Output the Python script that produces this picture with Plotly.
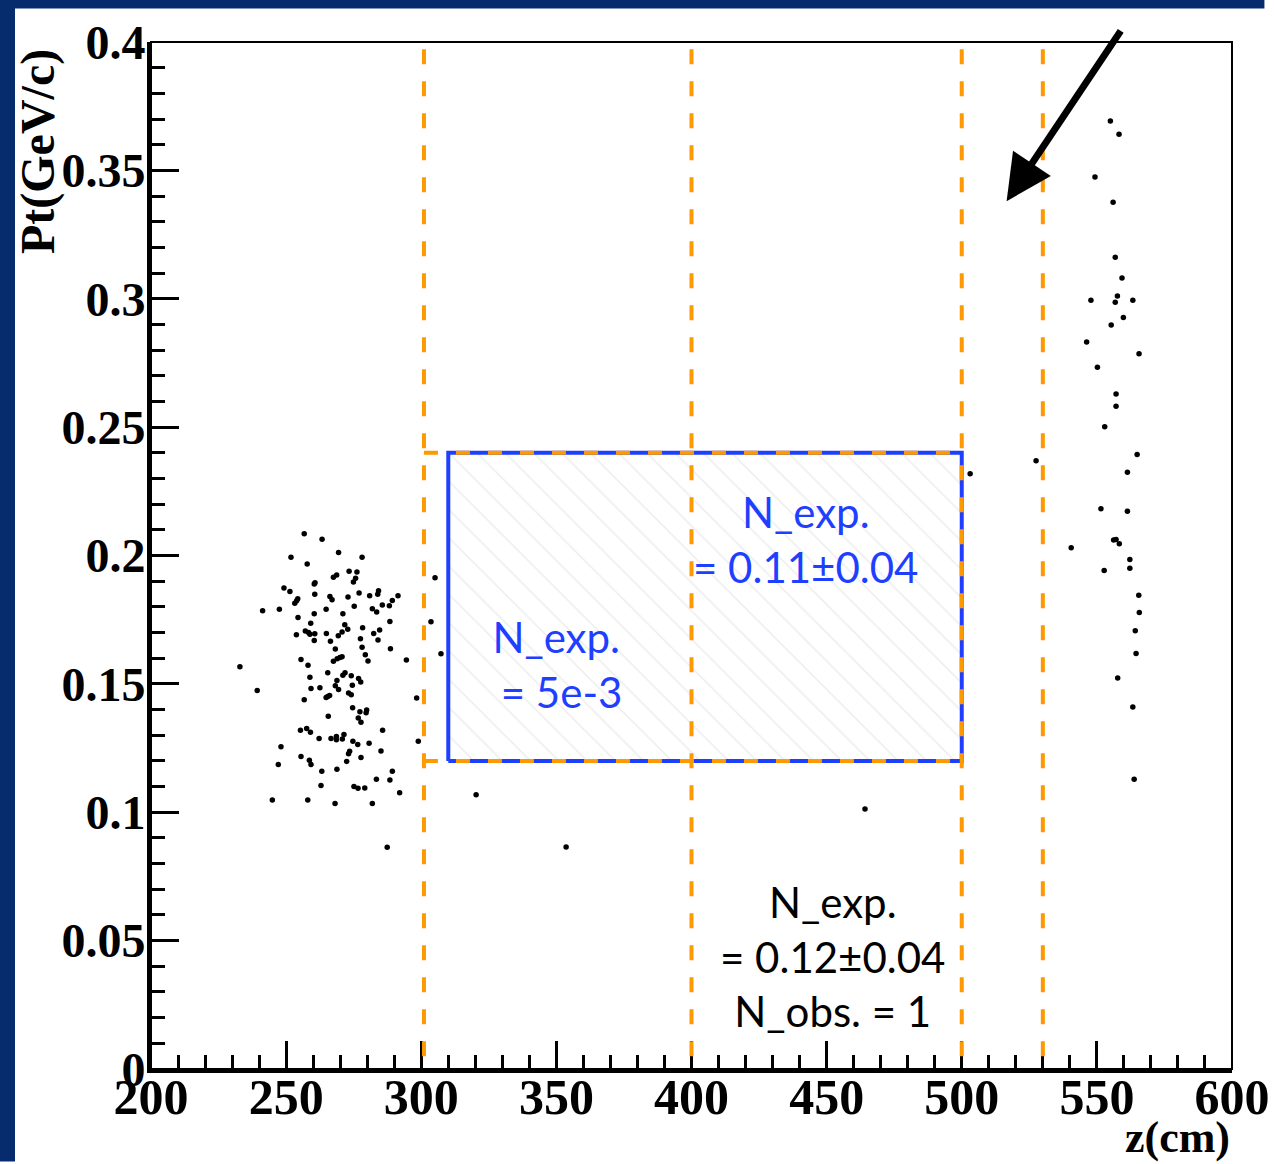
import plotly.graph_objects as go

# ---- data (z in cm, Pt in GeV/c) ----
z_left = [256.7, 263.3, 269.4, 251.8, 278.1, 257.8, 273.3, 276.2, 267.5, 268.7,
          275.7, 274.9, 260.7, 260.4, 249.2, 251.4, 260.6, 254.3, 253.9, 253.2,
          266.2, 267.0, 272.9, 277.0, 280.9, 283.9, 284.2, 291.4, 289.3, 288.2,
          285.6, 241.3, 247.5, 264.8, 275.2, 281.9, 283.5, 254.4, 260.4, 271.0,
          288.4, 259.1, 271.7, 272.8, 270.7, 269.3, 257.1, 258.3, 258.8, 260.6,
          253.8, 264.9, 278.3, 282.4, 284.6, 260.4, 266.4, 277.5, 284.0, 268.2,
          278.1, 279.3, 288.6, 280.3, 267.5, 268.9, 269.9, 270.7, 255.5, 258.1,
          294.5, 232.9, 265.4, 271.0, 271.8, 274.1, 258.8, 276.8, 277.6, 268.8,
          274.5, 268.2, 269.4, 259.2, 262.5, 239.3, 265.4, 264.8, 266.1, 273.1,
          274.1, 256.7, 298.3, 274.6, 277.3, 279.6, 279.8, 276.7, 277.7, 265.6,
          255.3, 257.6, 259.0, 285.7, 262.2, 266.6, 268.6, 268.6, 270.8, 271.4,
          274.7, 276.5, 280.7, 298.9, 248.1, 285.1, 273.5, 273.1, 255.5, 277.7,
          272.4, 258.6, 259.2, 247.1, 263.2, 268.8, 289.3, 283.4, 288.4, 262.9,
          275.1, 276.6, 279.1, 292.0, 244.9, 258.0, 268.1, 281.9, 287.4]
pt_left = [0.2085, 0.2063, 0.2012, 0.1993, 0.1993, 0.1967, 0.1939, 0.1936, 0.1915, 0.1924,
           0.1911, 0.1897, 0.1894, 0.1889, 0.1873, 0.1860, 0.1849, 0.1832, 0.1824, 0.1814,
           0.1840, 0.1828, 0.1838, 0.1854, 0.1843, 0.1849, 0.1863, 0.1843, 0.1825, 0.1804,
           0.1807, 0.1785, 0.1791, 0.1791, 0.1802, 0.1793, 0.1780, 0.1759, 0.1773, 0.1773,
           0.1743, 0.1736, 0.1730, 0.1713, 0.1702, 0.1687, 0.1706, 0.1700, 0.1693, 0.1695,
           0.1691, 0.1696, 0.1719, 0.1696, 0.1710, 0.1669, 0.1666, 0.1676, 0.1671, 0.1636,
           0.1643, 0.1613, 0.1637, 0.1589, 0.1588, 0.1598, 0.1603, 0.1606, 0.1595, 0.1573,
           0.1593, 0.1567, 0.1543, 0.1534, 0.1543, 0.1532, 0.1526, 0.1521, 0.1507, 0.1513,
           0.1495, 0.1493, 0.1478, 0.1482, 0.1485, 0.1474, 0.1451, 0.1447, 0.1455, 0.1464,
           0.1458, 0.1438, 0.1445, 0.1407, 0.1391, 0.1388, 0.1398, 0.1367, 0.1351, 0.1374,
           0.1319, 0.1326, 0.1312, 0.1319, 0.1287, 0.1287, 0.1295, 0.1282, 0.1285, 0.1303,
           0.1277, 0.1264, 0.1269, 0.1277, 0.1255, 0.1239, 0.1238, 0.1228, 0.1217, 0.1213,
           0.1198, 0.1203, 0.1186, 0.1186, 0.1160, 0.1167, 0.1160, 0.1129, 0.1126, 0.1104,
           0.1100, 0.1093, 0.1094, 0.1076, 0.1048, 0.1048, 0.1034, 0.1034, 0.0864]

z_mid = [305.1, 303.6, 307.3, 320.3, 353.6, 464.2, 503.1, 527.5]
pt_mid = [0.1913, 0.1742, 0.1617, 0.1068, 0.0865, 0.1013, 0.2318, 0.2369]

z_right = [555.0, 558.2, 549.3, 556.0, 556.8, 559.3, 557.6, 547.8, 556.8, 563.3,
           559.8, 555.3, 546.2, 565.6, 550.2, 557.1, 557.1, 552.9, 564.9, 561.3,
           551.5, 561.3, 556.2, 557.1, 558.3, 540.5, 562.2, 552.7, 562.2, 565.5,
           565.7, 564.2, 564.5, 557.7, 563.3, 563.8]
pt_right = [0.3692, 0.3641, 0.3474, 0.3376, 0.3162, 0.3081, 0.3011, 0.2994, 0.2986, 0.2994,
            0.2927, 0.2898, 0.2832, 0.2786, 0.2733, 0.2629, 0.2581, 0.2501, 0.2393, 0.2324,
            0.2182, 0.2172, 0.2060, 0.2062, 0.2046, 0.2030, 0.1984, 0.1942, 0.1950, 0.1845,
            0.1778, 0.1707, 0.1618, 0.1523, 0.1410, 0.1129]

cut_z = [301, 400, 500, 530]          # vertical cut lines
box_z = [310, 500]                     # signal box in z
box_pt = [0.12, 0.24]                  # signal box in Pt
x_ticks = [200, 250, 300, 350, 400, 450, 500, 550, 600]
y_ticks = [0, 0.05, 0.1, 0.15, 0.2, 0.25, 0.3, 0.35, 0.4]
y_tick_text = ["0", "0.05", "0.1", "0.15", "0.2", "0.25", "0.3", "0.35", "0.4"]

labels = [
    dict(z=442.0, pt=0.2062, text="N_exp.<br>= 0.11±0.04", color="#1f3fff"),
    dict(z=350.0, pt=0.1574, text="N_exp.<br> = 5e-3", color="#1f3fff"),
    dict(z=452.0, pt=0.0440, text="N_exp.<br>= 0.12±0.04<br>N_obs. = 1", color="black"),
]
arrow_tail = (559.2, 0.4049)
arrow_tip = (516.6, 0.338)

ORANGE = "#ff9900"
BLUE = "#1f3fff"
NAVY = "#072c6e"

fig = go.Figure()

# hatched signal box
fig.add_trace(go.Scatter(
    x=[box_z[0], box_z[1], box_z[1], box_z[0], box_z[0]],
    y=[box_pt[0], box_pt[0], box_pt[1], box_pt[1], box_pt[0]],
    mode="lines", fill="toself", fillcolor="rgba(255,255,255,0)",
    fillpattern=dict(shape="\\", fgcolor="#dedede", bgcolor="white", size=20, solidity=0.08),
    line=dict(color=BLUE, width=4), hoverinfo="skip", showlegend=False))

for zs, ps in [(z_left, pt_left), (z_mid, pt_mid), (z_right, pt_right)]:
    fig.add_trace(go.Scatter(x=zs, y=ps, mode="markers",
                             marker=dict(color="black", size=5.5),
                             showlegend=False, hoverinfo="skip"))

# orange dashed cut lines
for zc in cut_z:
    fig.add_shape(type="line", xref="x", yref="y", x0=zc, x1=zc, y0=0.005, y1=0.4,
                  line=dict(color=ORANGE, width=4, dash="15px,17px"))
for pc in box_pt:
    fig.add_shape(type="line", xref="x", yref="y", x0=cut_z[0], x1=box_z[1], y0=pc, y1=pc,
                  line=dict(color=ORANGE, width=4, dash="14px,18px"))

# thin frame
fig.add_shape(type="rect", xref="paper", yref="paper", x0=0, x1=1, y0=0, y1=1,
              line=dict(color="black", width=2), layer="above")

# navy bands (top and left)
fig.add_shape(type="rect", xref="paper", yref="paper", x0=-0.15, x1=1.03,
              y0=(1069 - 8.5) / 1027, y1=1.05, line=dict(width=0), fillcolor=NAVY)
fig.add_shape(type="rect", xref="paper", yref="paper", x0=-0.15, x1=(15 - 151) / 1081,
              y0=-0.09, y1=1.05, line=dict(width=0), fillcolor=NAVY)

# text labels
for lb in labels:
    fig.add_annotation(x=lb["z"], y=lb["pt"], xref="x", yref="y", text=lb["text"],
                       showarrow=False, align="center",
                       font=dict(family="Lato", size=42, color=lb["color"]))

# arrow
fig.add_annotation(x=arrow_tip[0], y=arrow_tip[1], ax=arrow_tail[0], ay=arrow_tail[1],
                   xref="x", yref="y", axref="x", ayref="y", text="", showarrow=True,
                   arrowhead=2, arrowsize=1.3, arrowwidth=7, arrowcolor="black")

# axis titles
fig.add_annotation(x=(38 - 151) / 1081, y=(1069 - 152) / 1027, xref="paper", yref="paper",
                   xanchor="center", yanchor="middle",
                   text="Pt(GeV/c)", textangle=-90, showarrow=False,
                   font=dict(family="Liberation Serif", size=48, color="black", weight="bold"))
fig.add_annotation(x=1.0, y=(1069 - 1137) / 1027, xref="paper", yref="paper",
                   xanchor="right", yanchor="middle",
                   text="z(cm)", showarrow=False,
                   font=dict(family="Liberation Serif", size=44, color="black", weight="bold"))

fig.update_xaxes(range=[200, 600], tickmode="array", tickvals=x_ticks,
                 ticktext=[str(v) for v in x_ticks], automargin=False,
                 ticks="inside", ticklen=28, tickwidth=3, tickcolor="black",
                 minor=dict(dtick=10, ticklen=14, tickwidth=3, tickcolor="black", ticks="inside"),
                 showline=True, linewidth=4, linecolor="black", mirror=False,
                 showgrid=False, zeroline=False, ticklabelstandoff=-19,
                 tickfont=dict(family="Liberation Serif", size=50, color="black", weight="bold"))
fig.update_yaxes(range=[0, 0.4], tickmode="array", tickvals=y_ticks,
                 ticktext=y_tick_text, automargin=False,
                 ticks="inside", ticklen=28, tickwidth=3, tickcolor="black",
                 minor=dict(dtick=0.01, ticklen=14, tickwidth=3, tickcolor="black", ticks="inside"),
                 showline=True, linewidth=4, linecolor="black", mirror=False,
                 showgrid=False, zeroline=False, ticklabelstandoff=-8,
                 tickfont=dict(family="Liberation Serif", size=48, color="black", weight="bold"))

fig.update_layout(width=1274, height=1164, paper_bgcolor="white", plot_bgcolor="white",
                  autosize=False,
                  margin=dict(l=151, r=42, t=42, b=95, autoexpand=False), showlegend=False)

fig.write_html("out.html", config={"displayModeBar": False, "responsive": False},
               post_script="document.documentElement.style.overflow='hidden';"
                           "document.body.style.margin='0';"
                           "document.body.style.overflow='hidden';")
